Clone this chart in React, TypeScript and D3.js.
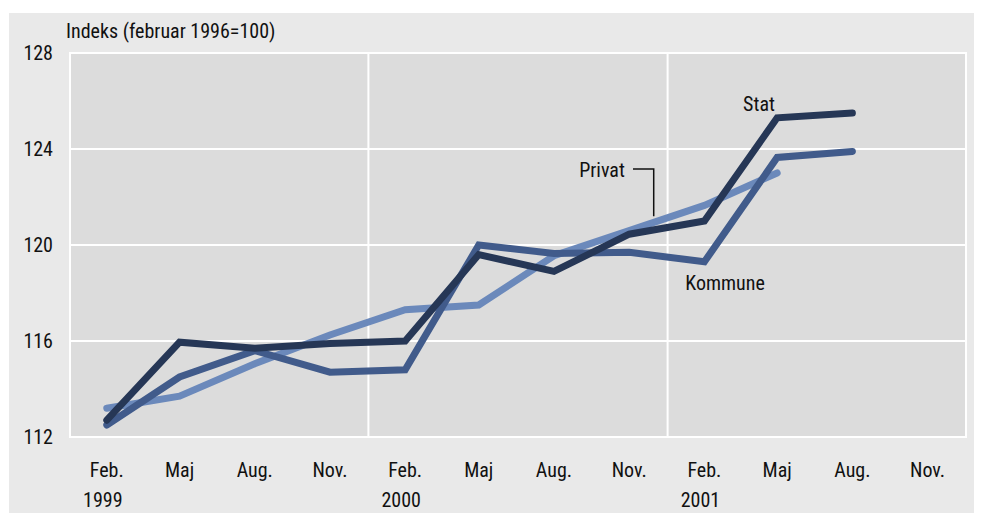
import * as d3 from "d3";

// quarterly observations, Feb 1999 – Aug 2001
const months = [
  "1999-02", "1999-05", "1999-08", "1999-11",
  "2000-02", "2000-05", "2000-08", "2000-11",
  "2001-02", "2001-05", "2001-08",
];
const tickMonths = [...months, "2001-11"];
const tickLabels = ["Feb.", "Maj", "Aug.", "Nov.", "Feb.", "Maj", "Aug.", "Nov.", "Feb.", "Maj", "Aug.", "Nov."];
const years = ["1999", "2000", "2001"];
const yTicks = [112, 116, 120, 124, 128];

const stat = [112.7, 115.95, 115.7, 115.9, 116.0, 119.6, 118.9, 120.45, 121.0, 125.3, 125.5];
const kommune = [112.5, 114.5, 115.6, 114.7, 114.8, 120.0, 119.65, 119.7, 119.3, 123.65, 123.9];
const privat = [113.2, 113.7, 115.05, 116.25, 117.3, 117.5, 119.55, 120.6, 121.65, 123.0];

/** svg dimensions */
const width = 983;
const height = 513;
const plot = { left: 70, right: 966, top: 53, bottom: 437 };
const font = "'Liberation Sans Narrow', 'Roboto Condensed', 'DejaVu Sans Condensed', sans-serif";

const midMonth = (m: string) => {
  const [y, mo] = m.split("-").map(Number);
  return new Date(y, mo - 1, 15);
};

const App = () => {
  const x = d3
    .scaleTime()
    .domain([new Date(1999, 0, 1), new Date(2002, 0, 1)])
    .range([plot.left, plot.right]);
  const y = d3.scaleLinear().domain([112, 128]).range([plot.bottom, plot.top]);

  const line = d3
    .line<number>()
    .x((_, i) => x(midMonth(months[i])))
    .y((d) => y(d));

  const series = [
    { values: privat, color: "#6b89bb" },
    { values: kommune, color: "#415b8b" },
    { values: stat, color: "#263756" },
  ];

  const privLeader = x(new Date(2000, 11, 15));

  return (
    <svg width={width} height={height} style={{ display: "block", position: "absolute", left: 0, top: 0 }}>
      <rect x={9} y={13} width={965} height={500} fill="#e9e9e9" />
      <rect
        x={plot.left}
        y={plot.top}
        width={plot.right - plot.left}
        height={plot.bottom - plot.top}
        fill="#dcdcdc"
        stroke="#fff"
        strokeWidth={2}
      />
      {yTicks.map((t) => (
        <line key={t} x1={plot.left} x2={plot.right} y1={y(t)} y2={y(t)} stroke="#fff" strokeWidth={2} />
      ))}
      {[new Date(2000, 0, 1), new Date(2001, 0, 1)].map((d, i) => (
        <line key={i} x1={x(d)} x2={x(d)} y1={plot.top} y2={plot.bottom} stroke="#fff" strokeWidth={2} />
      ))}
      <g fontFamily={font} fontSize={20} fill="#111">
        <text x={66} y={38}>Indeks (februar 1996=100)</text>
        {yTicks.map((t) => (
          <text key={t} x={53} y={y(t) + 7} textAnchor="end">{t}</text>
        ))}
        {tickMonths.map((m, i) => (
          <text key={m} x={x(midMonth(m))} y={477} textAnchor="middle">{tickLabels[i]}</text>
        ))}
        {years.map((yr) => (
          <text key={yr} x={x(new Date(+yr, 1, 15)) - 4} y={507} textAnchor="middle">{yr}</text>
        ))}
      </g>
      {series.map((s, i) => (
        <path
          key={i}
          d={line(s.values) ?? ""}
          fill="none"
          stroke={s.color}
          strokeWidth={7}
          strokeLinecap="round"
          strokeLinejoin="miter"
        />
      ))}
      {/* labels */}
      <polyline
        points={`633,169 ${privLeader},169 ${privLeader},${y(121.2)}`}
        fill="none"
        stroke="#111"
        strokeWidth={1.5}
      />
      <g fontFamily={font} fontSize={20} fill="#111">
        <text x={602} y={177} textAnchor="middle">Privat</text>
        <text x={759} y={111} textAnchor="middle">Stat</text>
        <text x={725} y={290} textAnchor="middle">Kommune</text>
      </g>
    </svg>
  );
};

export default App;
